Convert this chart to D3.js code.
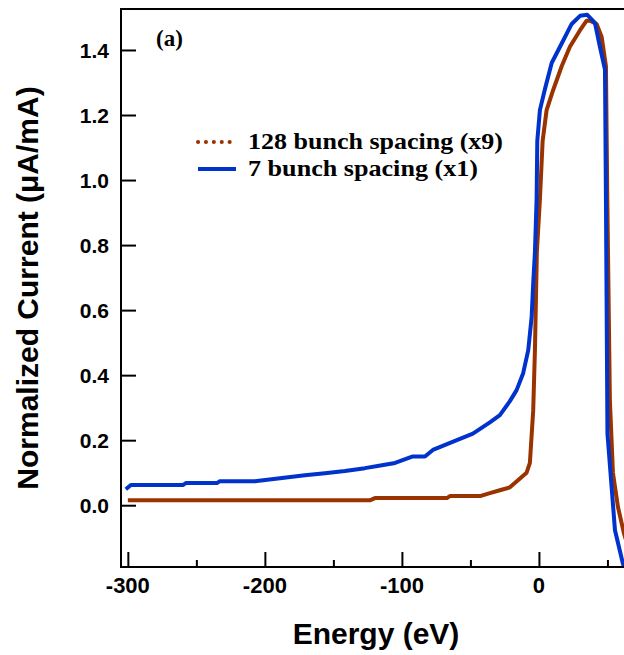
<!DOCTYPE html>
<html>
<head>
<meta charset="utf-8">
<script src="https://cdn.jsdelivr.net/npm/d3@7"></script>
<style>
  html, body { margin: 0; padding: 0; background: #fff; }
  svg { display: block; }
</style>
</head>
<body>
<div id="chart"></div>
<script>
// ---- data ----
const energyBlue = [-301.5, -297.8, -259.9, -257.7, -235, -232.8, -207.3, -189, -170.8, -156.2, -141.6, -127, -114.6, -105, -92, -83.2, -77.4, -59.9, -48.2, -35.8, -28.5, -21.2, -16.3, -11.5, -7.8, -5.3, -4.2, -2.9, -1.7, -1.2, 0.7, 4.4, 9.3, 16.6, 23.9, 30, 35.3, 40.9, 44.5, 48.2, 48.9, 50, 55.5, 61.3, 66];
const currentBlue = [0.049, 0.062, 0.062, 0.068, 0.068, 0.074, 0.074, 0.083, 0.092, 0.098, 0.105, 0.114, 0.123, 0.13, 0.15, 0.15, 0.17, 0.2, 0.22, 0.255, 0.277, 0.32, 0.354, 0.406, 0.477, 0.58, 0.68, 0.78, 0.94, 1.12, 1.215, 1.28, 1.36, 1.42, 1.48, 1.505, 1.508, 1.483, 1.41, 1.34, 0.94, 0.22, -0.077, -0.18, -0.24];

const energyBrown = [-300, -123.4, -119.7, -67.2, -65, -43, -35.8, -28.5, -21.2, -15.3, -9, -6.6, -4.2, -2.9, -1.5, 0.7, 2.7, 5.6, 10.4, 16.6, 22.6, 29.9, 34.8, 37.2, 42.1, 45.8, 48.9, 49.9, 51.8, 54, 57.7, 62, 66];
const currentBrown = [0.015, 0.015, 0.022, 0.022, 0.028, 0.028, 0.037, 0.046, 0.055, 0.077, 0.1, 0.13, 0.29, 0.48, 0.78, 0.94, 1.12, 1.215, 1.277, 1.35, 1.41, 1.46, 1.49, 1.49, 1.48, 1.44, 1.35, 0.94, 0.32, 0.1, -0.006, -0.086, -0.14];

const xTicksMajor = [-300, -200, -100, 0];
const xTicksMinor = [-250, -150, -50, 50];
const yTicks = [0.0, 0.2, 0.4, 0.6, 0.8, 1.0, 1.2, 1.4];
const seriesNames = ["128 bunch spacing (x9)", "7 bunch spacing (x1)"];
const seriesColors = ["#993300", "#0033cc"];

(function () {
// ---- layout ----
const W = 624, H = 655;
const pLeft = 121, pTop = 9, pBottom = 567, pRight = 628;
const sans = "Liberation Sans, Arial, Helvetica, sans-serif";
const serif = "Liberation Serif, Times New Roman, serif";

const svg = d3.select("#chart").append("svg")
  .attr("width", W).attr("height", H);

const x = d3.scaleLinear().domain([-305, 65]).range([pLeft, pRight]);
const y = d3.scaleLinear().domain([-0.19, 1.526]).range([pBottom, pTop]);

svg.append("defs").append("clipPath").attr("id", "clip")
  .append("rect").attr("x", pLeft).attr("y", pTop).attr("width", pRight - pLeft).attr("height", pBottom - pTop);

const line = d3.line().x(d => x(d[0])).y(d => y(d[1]));

const blue = energyBlue.map((e, i) => [e, currentBlue[i]]);
const brown = energyBrown.map((e, i) => [e, currentBrown[i]]);

const g = svg.append("g").attr("clip-path", "url(#clip)");
g.append("path").datum(brown).attr("d", line)
  .attr("fill", "none").attr("stroke", seriesColors[0]).attr("stroke-width", 4).attr("stroke-linejoin", "round");
g.append("path").datum(blue).attr("d", line)
  .attr("fill", "none").attr("stroke", seriesColors[1]).attr("stroke-width", 4).attr("stroke-linejoin", "round");

// frame top
svg.append("line").attr("x1", pLeft).attr("x2", W).attr("y1", pTop).attr("y2", pTop)
  .attr("stroke", "#000").attr("stroke-width", 2);

// Y axis
const yAxis = d3.axisRight(y).tickValues(yTicks).tickSize(15).tickFormat("");
const ya = svg.append("g").attr("transform", `translate(${pLeft},0)`).call(yAxis);
ya.select(".domain").attr("d", `M0,${pTop - 1}V${pBottom + 1}`).attr("stroke-width", 2);
ya.selectAll(".tick line").attr("stroke-width", 2);
svg.append("g").selectAll("text").data(yTicks).join("text")
  .attr("x", 109).attr("y", d => y(d)).attr("dy", "0.36em")
  .attr("text-anchor", "end")
  .style("font-family", sans).style("font-weight", "bold").style("font-size", "21px")
  .text(d => d3.format(".1f")(d));

// X axis
const xAxis = d3.axisTop(x).tickValues(xTicksMajor).tickSize(15).tickFormat("");
const xa = svg.append("g").attr("transform", `translate(0,${pBottom})`).call(xAxis);
xa.select(".domain").attr("d", `M${pLeft - 1},0H${W}`).attr("stroke-width", 2);
xa.selectAll(".tick line").attr("stroke-width", 2);
const xAxisMinor = d3.axisTop(x).tickValues(xTicksMinor).tickSize(7).tickFormat("");
const xm = svg.append("g").attr("transform", `translate(0,${pBottom})`).call(xAxisMinor);
xm.select(".domain").remove();
xm.selectAll(".tick line").attr("stroke-width", 2);
svg.append("g").selectAll("text").data(xTicksMajor).join("text")
  .attr("x", d => x(d)).attr("y", 593)
  .attr("text-anchor", "middle")
  .style("font-family", sans).style("font-weight", "bold").style("font-size", "22px")
  .text(d => d);

// axis titles
svg.append("text").attr("x", 376).attr("y", 644).attr("text-anchor", "middle")
  .style("font-family", sans).style("font-weight", "bold").style("font-size", "30px")
  .text("Energy (eV)");
svg.append("text").attr("transform", "translate(38,288) rotate(-90)").attr("text-anchor", "middle")
  .style("font-family", sans).style("font-weight", "bold").style("font-size", "30px")
  .text("Normalized Current (μA/mA)");

// panel label
svg.append("text").attr("x", 156).attr("y", 46)
  .style("font-family", serif).style("font-weight", "bold").style("font-size", "23px")
  .text("(a)");

// legend
const leg = svg.append("g");
const legY = [142, 169];
const legTextLen = [255, 230];
leg.selectAll("line").data(seriesNames).join("line")
  .attr("x1", 198).attr("x2", 236).attr("y1", (d, i) => legY[i]).attr("y2", (d, i) => legY[i])
  .attr("stroke", (d, i) => seriesColors[i]).attr("stroke-width", 4)
  .attr("stroke-linecap", (d, i) => i === 0 ? "round" : "butt")
  .attr("stroke-dasharray", (d, i) => i === 0 ? "0.1,7.8" : null);
leg.selectAll("text").data(seriesNames).join("text")
  .attr("x", 248).attr("y", (d, i) => legY[i] + 7)
  .attr("textLength", (d, i) => legTextLen[i]).attr("lengthAdjust", "spacingAndGlyphs")
  .style("font-family", serif).style("font-weight", "bold").style("font-size", "24px")
  .text(d => d);
})();
</script>
</body>
</html>
